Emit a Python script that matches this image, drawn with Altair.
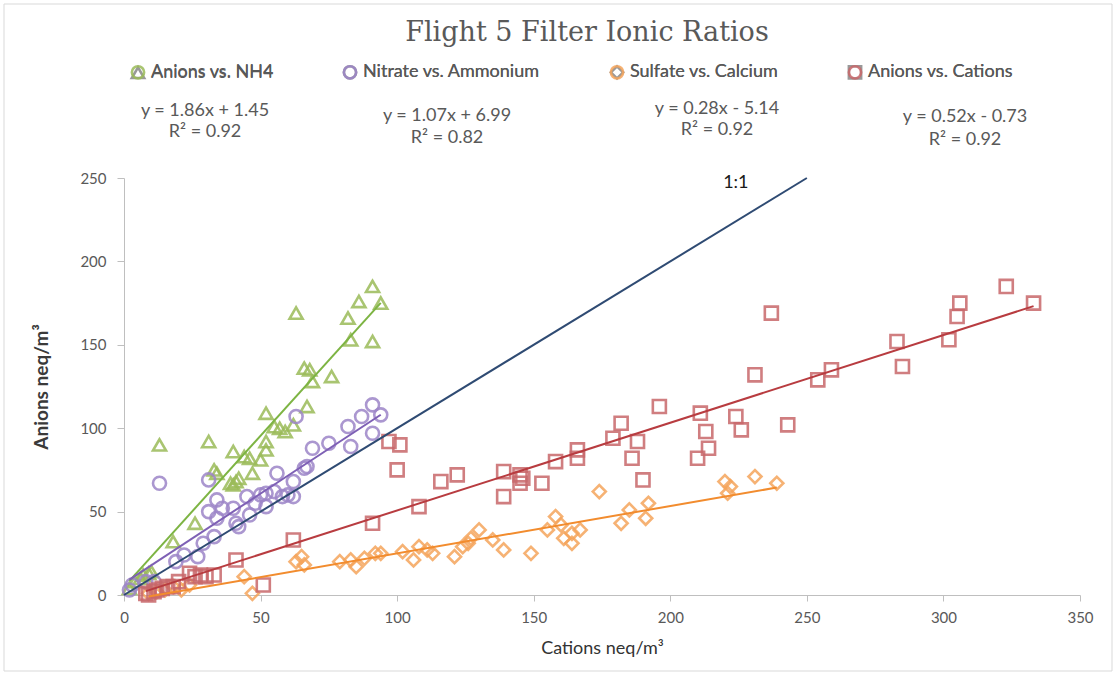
import altair as alt
import pandas as pd

# ---------------- data ----------------
series_names = ["Anions vs. NH4", "Nitrate vs. Ammonium", "Sulfate vs. Calcium", "Anions vs. Cations"]

nh4_x = [2, 4, 6, 7, 9, 10, 13, 18, 26, 31, 33, 34, 39, 40, 41, 42, 40, 44, 46, 47,
         50, 52, 52, 52, 55, 57, 59, 62, 63, 66, 67, 68, 69, 76, 82, 83, 86, 91, 91, 94]
nh4_y = [4, 8, 10, 12, 13, 14, 90, 32, 43, 92, 75, 73, 67, 66, 68, 70, 86, 83, 82, 73,
         81, 87, 92, 109, 101, 100, 98, 102, 169, 136, 113, 135, 128, 131, 166, 153, 176, 185, 152, 175]

no3_x = [2, 3, 8, 11, 13, 19, 22, 27, 29, 31, 31, 33, 34, 34, 36, 40, 41, 42, 45, 46,
         48, 50, 52, 52, 55, 56, 58, 60, 62, 62, 63, 66, 67, 69, 75, 82, 83, 87, 91, 91, 94]
no3_y = [3, 6, 8, 8, 67, 20, 24, 23, 31, 50, 69, 35, 46, 57, 52, 52, 43, 41, 59, 48,
         55, 60, 53, 61, 62, 73, 59, 60, 59, 68, 107, 76, 77, 88, 91, 101, 89, 107, 97, 114, 108]

so4_x = [9, 12, 15, 18, 21, 24, 44, 47, 63, 65, 66, 79, 83, 85, 88, 92, 94, 102, 106, 108,
         111, 113, 121, 124, 126, 127, 130, 135, 139, 149, 155, 158, 160, 161, 164, 164, 167, 174,
         182, 185, 191, 192, 220, 221, 222, 231, 239]
so4_y = [1, 2, 3, 5, 3, 6, 11, 1, 20, 23, 18, 20, 21, 17, 22, 25, 25, 26, 21, 29,
         27, 25, 23, 29, 31, 34, 39, 33, 27, 25, 39, 47, 42, 34, 31, 37, 39, 62,
         43, 51, 46, 55, 68, 61, 65, 71, 67]

ac_x = [8, 9, 11, 12, 14, 16, 18, 20, 24, 26, 28, 30, 33, 41, 51, 62, 91, 97, 101, 100,
        108, 116, 122, 139, 139, 145, 145, 146, 153, 158, 166, 166, 179, 182, 186, 188, 190, 196,
        210, 211, 213, 214, 224, 226, 231, 237, 243, 254, 259, 283, 285, 302, 305, 306, 323, 333]
ac_y = [1, 0, 2, 3, 4, 5, 5, 8, 13, 11, 12, 11, 12, 21, 6, 33, 43, 92, 90, 75,
        53, 68, 72, 59, 74, 72, 67, 70, 67, 80, 87, 82, 94, 103, 82, 92, 69, 113,
        82, 109, 98, 88, 107, 99, 132, 169, 102, 129, 135, 152, 137, 153, 167, 175, 185, 175]

one_to_one = [0, 250]

eq_lines = ["y = 1.86x + 1.45", "R² = 0.92",
            "y = 1.07x + 6.99", "R² = 0.82",
            "y = 0.28x - 5.14", "R² = 0.92",
            "y = 0.52x - 0.73", "R² = 0.92"]

x_ticks = [0, 50, 100, 150, 200, 250, 300, 350]
y_ticks = [0, 50, 100, 150, 200, 250]

title_text = "Flight 5 Filter Ionic Ratios"
x_title = "Cations neq/m³"
y_title = "Anions neq/m³"
one_label = "1:1"

# ---------------- styles / layout ----------------
W, H = 956, 417
PAD = {"left": 124, "top": 178, "right": 36, "bottom": 80}
marker_colors = ["#9BBB59", "#9D86C8", "#F5A55C", "#C8686B"]
line_colors = ["#7DB443", "#7E60B5", "#F28C2E", "#B83C40"]
shapes = ["triangle-up", "circle", "diamond", "square"]
eq_pos = [(81, -67), (81, -46), (323, -62), (323, -40),
          (593, -69), (593, -48), (841, -61), (841, -38)]

frames = []
for name, xs, ys in zip(series_names, [nh4_x, no3_x, so4_x, ac_x], [nh4_y, no3_y, so4_y, ac_y]):
    frames.append(pd.DataFrame({"series": name, "x": xs, "y": ys}))
df = pd.concat(frames, ignore_index=True)

xscale = alt.Scale(domain=[0, 350], nice=False)
yscale = alt.Scale(domain=[0, 250], nice=False)

legend = alt.Legend(
    title=None, orient="none", legendX=5, legendY=-115, direction="horizontal",
    columns=4, columnPadding=64, labelFont="Lato", labelFontSize=18, labelColor="#595959",
    labelFontWeight="normal", labelLimit=400, symbolSize=150, symbolStrokeWidth=2.6,
    labelOffset=4, padding=0,
)

points = alt.Chart(df).mark_point(filled=False, strokeWidth=2.6, size=170, opacity=0.85).encode(
    x=alt.X("x:Q", scale=xscale,
            axis=alt.Axis(values=x_ticks, title=x_title, tickSize=6, labelPadding=9,
                          titlePadding=14, labelFlush=False)),
    y=alt.Y("y:Q", scale=yscale,
            axis=alt.Axis(values=y_ticks, title=y_title, tickSize=7, labelPadding=11,
                          titlePadding=28, labelFlush=False, titleFontSize=19,
                          titleFontWeight="bold", titleColor="#3a3a3a")),
    color=alt.Color("series:N", scale=alt.Scale(domain=series_names, range=marker_colors), legend=legend),
    shape=alt.Shape("series:N", scale=alt.Scale(domain=series_names, range=shapes), legend=legend),
)

fits = alt.Chart(df).transform_regression("x", "y", groupby=["series"]).mark_line(strokeWidth=2).encode(
    x=alt.X("x:Q", scale=xscale),
    y=alt.Y("y:Q", scale=yscale),
    color=alt.Color("series:N", scale=alt.Scale(domain=series_names, range=line_colors), legend=None),
)

one_df = pd.DataFrame({"x": one_to_one, "y": one_to_one})
oneone = alt.Chart(one_df).mark_line(color="#2F4B73", strokeWidth=2).encode(
    x=alt.X("x:Q", scale=xscale), y=alt.Y("y:Q", scale=yscale))

lab_df = pd.DataFrame({"x": [224], "y": [247], "t": [one_label]})
lab = alt.Chart(lab_df).mark_text(font="Lato", fontSize=18, color="#1a1a1a").encode(
    x=alt.X("x:Q", scale=xscale), y=alt.Y("y:Q", scale=yscale), text="t:N")

layers = [points, fits, oneone, lab]

for txt, (px, py) in zip(eq_lines, eq_pos):
    layers.append(
        alt.Chart(pd.DataFrame({"t": [txt]})).mark_text(
            font="Lato", fontSize=18, color="#595959", baseline="middle", align="center"
        ).encode(x=alt.value(px), y=alt.value(py), text="t:N")
    )

layers.append(
    alt.Chart(pd.DataFrame({"t": [title_text]})).mark_text(
        font="DejaVu Serif", fontSize=27, color="#595959", baseline="middle", align="center"
    ).encode(x=alt.value(587 - PAD["left"]), y=alt.value(33 - PAD["top"]), text="t:N")
)

layers.append(
    alt.Chart(pd.DataFrame({"t": [0]})).mark_rect(fillOpacity=0, stroke="#d9d9d9", strokeWidth=1).encode(
        x=alt.value(4 - PAD["left"]), x2=alt.value(1112 - PAD["left"]),
        y=alt.value(4 - PAD["top"]), y2=alt.value(671 - PAD["top"]))
)

chart = alt.layer(*layers).resolve_scale(color="independent").properties(
    width=W, height=H,
    autosize=alt.AutoSizeParams(type="none"),
    padding=PAD,
    background="white",
).configure_view(stroke=None).configure_axis(
    grid=False, domainColor="#bfbfbf", tickColor="#bfbfbf", labelColor="#595959",
    labelFont="Lato", labelFontSize=15, titleFont="Lato", titleFontSize=18,
    titleColor="#333333", titleFontWeight="normal",
)

chart.save("out.html", embed_options={"renderer": "svg", "actions": False})
